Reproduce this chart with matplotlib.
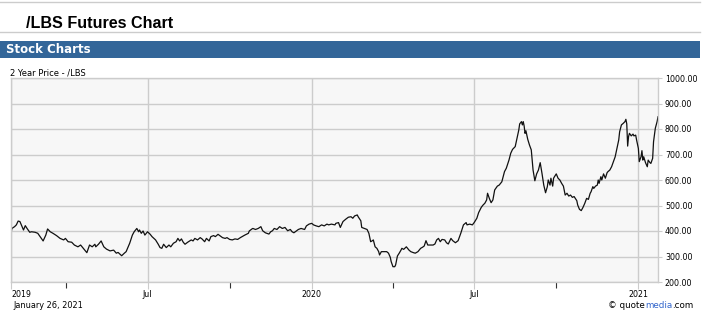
import numpy as np
import matplotlib.pyplot as plt
import matplotlib.dates as mdates
from matplotlib.patches import Rectangle
from matplotlib.lines import Line2D

plt.rcParams['font.family'] = 'DejaVu Sans'

W, H = 703, 319

# day offsets are counted from this date
start = np.datetime64('2019-01-26')

# Feb - Jun 2019
days_a = [3, 4, 7, 9, 11, 13, 15, 17, 19, 21, 24, 26, 30, 33, 37, 39, 42, 44, 47, 50,
          54, 58, 62, 64, 67, 71, 74, 78, 81, 84, 88, 91, 94, 97, 98, 101, 104, 107, 110, 114,
          118, 121, 123, 127, 130, 132]
price_a = [391, 410, 417, 424, 439, 437, 421, 404, 421, 410, 395, 397, 395, 391, 371, 361, 384, 408, 397, 391,
           382, 371, 365, 371, 358, 356, 345, 338, 345, 332, 315, 345, 338, 348, 338, 348, 361, 338, 329, 322,
           325, 313, 316, 303, 313, 319]

# Jun - Oct 2019
days_b = [136, 139, 141, 144, 146, 147, 149, 151, 153, 156, 159, 161, 165, 168, 170, 172, 174, 177, 180, 182,
          185, 188, 190, 192, 194, 196, 198, 201, 205, 207, 209, 212, 215, 217, 220, 222, 225, 227, 230, 232,
          235, 237, 240, 243, 245, 248, 251, 254, 257, 260, 262, 265, 269, 270, 273]
price_b = [352, 384, 397, 410, 397, 404, 391, 400, 384, 397, 387, 378, 365, 348, 335, 332, 348, 335, 345, 338,
           352, 358, 371, 361, 369, 356, 348, 356, 365, 361, 371, 365, 374, 369, 358, 371, 361, 378, 382, 378,
           387, 382, 374, 371, 374, 367, 365, 369, 367, 374, 378, 384, 391, 400, 408]

# Oct 2019 - Mar 2020
days_c = [274, 277, 280, 283, 285, 288, 292, 294, 296, 298, 301, 304, 307, 310, 313, 316, 318, 320, 323, 325,
          328, 332, 334, 337, 340, 342, 345, 348, 351, 354, 357, 359, 362, 366, 367, 370, 372, 375, 378, 381,
          384, 386, 388, 391, 392, 395, 396, 399, 402, 404, 406, 408]
price_c = [410, 406, 410, 417, 401, 393, 388, 397, 401, 410, 406, 417, 410, 414, 401, 406, 397, 393, 401, 406,
           410, 406, 420, 427, 430, 424, 420, 417, 424, 420, 427, 424, 427, 424, 430, 433, 414, 437, 446, 454,
           456, 450, 459, 463, 456, 440, 414, 410, 406, 391, 358, 362]

# Mar - Aug 2020
days_d = [409, 411, 413, 415, 416, 418, 421, 424, 426, 428, 429, 431, 433, 434, 436, 438, 440, 441, 443, 446,
          449, 451, 454, 456, 459, 462, 464, 466, 468, 470, 473, 476, 478, 480, 482, 484, 486, 489, 491, 493,
          496, 498, 501, 504, 507, 510, 513, 514, 517, 520, 522, 525, 527, 530, 532, 534, 536, 537]
price_d = [365, 338, 332, 319, 306, 319, 319, 319, 313, 297, 280, 260, 260, 267, 302, 313, 325, 332, 328, 338,
           325, 319, 315, 313, 319, 332, 336, 341, 362, 345, 345, 345, 349, 365, 371, 358, 367, 365, 354, 349,
           371, 362, 354, 362, 391, 424, 433, 424, 427, 424, 433, 450, 472, 493, 502, 509, 522, 548]

# Aug - Nov 2020
days_e = [539, 541, 543, 545, 548, 550, 553, 556, 558, 561, 563, 565, 568, 570, 572, 573, 575, 576, 577, 578,
          579, 580, 582, 584, 586, 587, 588, 590, 592, 594, 596, 598, 600, 602, 604, 605, 607, 608, 610, 611,
          612, 614, 616, 618, 620, 622, 624, 626, 628, 630, 632, 634, 636, 637, 638, 640]
price_e = [528, 511, 522, 561, 576, 580, 593, 633, 646, 678, 705, 720, 731, 764, 796, 820, 829, 816, 829, 812,
           783, 793, 760, 737, 718, 678, 639, 597, 624, 639, 668, 626, 580, 550, 574, 600, 580, 607, 576, 607,
           613, 624, 607, 600, 587, 576, 541, 548, 537, 541, 532, 535, 524, 519, 502, 485]

# Nov 2020 - Jan 2021
days_f = [642, 644, 646, 648, 650, 652, 653, 655, 656, 658, 660, 661, 662, 664, 665, 667, 669, 671, 672, 674,
          676, 678, 680, 682, 684, 685, 687, 689, 691, 692, 693, 694, 695, 696, 698, 700, 701, 703, 704, 706,
          707, 709, 710, 711, 712, 714, 716, 717, 719, 720, 722, 723, 725, 727, 728]
price_f = [480, 493, 509, 528, 524, 548, 554, 574, 567, 576, 580, 600, 587, 613, 600, 624, 607, 629, 633, 639,
           652, 672, 691, 724, 757, 789, 816, 822, 829, 838, 820, 733, 770, 783, 773, 780, 773, 776, 757, 724,
           672, 691, 715, 678, 691, 668, 652, 678, 668, 665, 685, 750, 803, 829, 848]

y_ticks = [200, 300, 400, 500, 600, 700, 800, 900, 1000]
x_major = ['2019-01-29', '2019-07-01', '2020-01-01', '2020-07-01', '2021-01-01']
x_major_labels = ['2019', 'Jul', '2020', 'Jul', '2021']
x_minor = ['2019-04-01', '2019-10-01', '2020-04-01', '2020-10-01']

days = np.array(days_a + days_b + days_c + days_d + days_e + days_f)
price = np.array(price_a + price_b + price_c + price_d + price_e + price_f)
dates = start + days.astype('timedelta64[D]')


def fx(x):
    return x / W


def fy(y):
    return 1 - y / H


fig = plt.figure(figsize=(W / 100, H / 100), dpi=100)

# page header
fig.add_artist(Line2D([fx(0), fx(700)], [fy(1.5), fy(1.5)], color='#cccccc', lw=1))
fig.text(fx(26), fy(27.5), '/LBS Futures Chart', family='Liberation Sans', weight='bold',
         fontsize=11.6, va='baseline', ha='left')
fig.add_artist(Line2D([fx(0), fx(700)], [fy(32), fy(32)], color='#cccccc', lw=1))
fig.add_artist(Rectangle((fx(0), fy(57.5)), fx(700), 16.5 / H, color='#336699', lw=0))
fig.text(fx(6), fy(49.5), 'Stock Charts', color='white', weight='bold', fontsize=8.5,
         va='center', ha='left')
fig.text(fx(10), fy(76), '2 Year Price - /LBS', fontsize=6, va='baseline', ha='left')

# chart
ax = fig.add_axes([fx(11), fy(282), 647 / W, 204 / H])
ax.set_facecolor('#f7f7f7')
ax.plot(dates, price, color='#111111', lw=0.9)

ax.set_ylim(200, 1000)
ax.set_xlim(start + np.timedelta64(3, 'D'), start + np.timedelta64(728, 'D'))

ax.set_yticks(y_ticks)
ax.set_yticklabels([f'{v:.2f}' for v in y_ticks])
ax.yaxis.tick_right()
ax.tick_params(axis='y', length=3, color='#cccccc', pad=2, labelsize=5.7)

ax.set_xticks(np.array(x_major, dtype='datetime64[D]'))
ax.set_xticklabels(x_major_labels)
ax.set_xticks(np.array(x_minor, dtype='datetime64[D]'), minor=True)
ax.tick_params(axis='x', which='major', length=5, color='#cccccc', pad=1, labelsize=5.7)
ax.tick_params(axis='x', which='minor', length=4, color='#333333', width=0.8)
ax.get_xticklabels()[0].set_ha('left')

ax.grid(True, which='major', color='#cccccc', lw=1)
ax.set_axisbelow(True)
for s in ax.spines.values():
    s.set_color('#cccccc')
    s.set_linewidth(1)

# footer
fig.text(fx(13), fy(308), 'January 26, 2021', fontsize=5.9, va='baseline', ha='left')
r = fig.canvas.get_renderer()
t1 = fig.text(fx(608), fy(308), '\u00a9 quote', fontsize=6.3, va='baseline', ha='left')
x1 = t1.get_window_extent(r).x1 / W
t2 = fig.text(x1, fy(308), 'media', fontsize=6.3, va='baseline', ha='left', color='#3366cc')
x2 = t2.get_window_extent(r).x1 / W
fig.text(x2, fy(308), '.com', fontsize=6.3, va='baseline', ha='left')

fig.savefig('out.png', dpi=100)
